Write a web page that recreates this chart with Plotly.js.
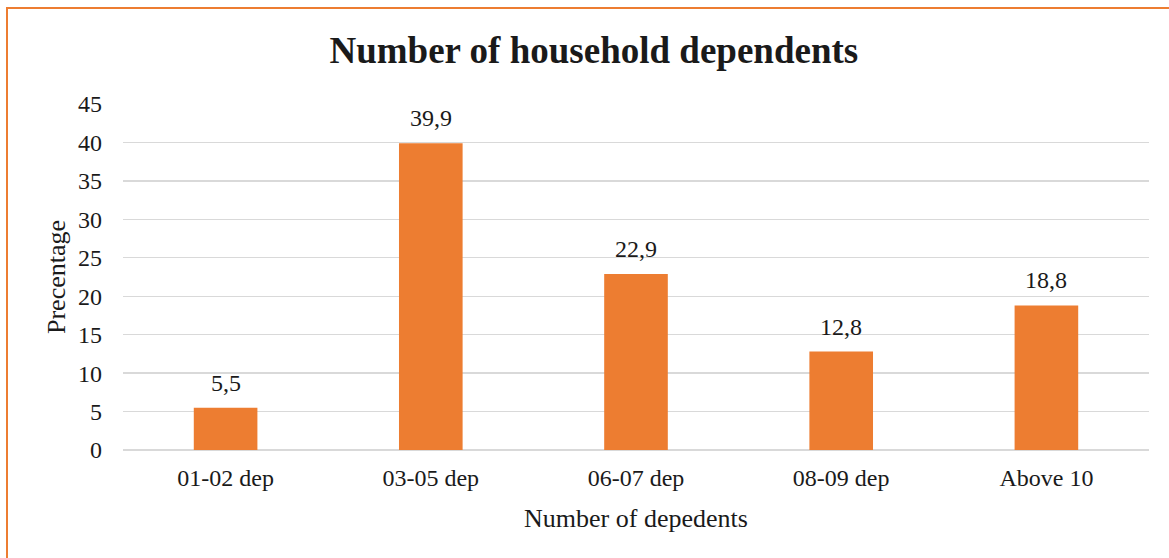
<!DOCTYPE html>
<html>
<head>
<meta charset="utf-8">
<script src="https://cdn.plot.ly/plotly-3.0.1.min.js"></script>
<style>
  html, body { margin: 0; padding: 0; background: #fff; overflow: hidden; }
  #chart { width: 1169px; height: 558px; position: absolute; left: 0; top: 0; }
  #frame {
    position: absolute; left: 6px; top: 7px; width: 1200px; height: 600px;
    border-left: 2px solid #ED7D31; border-top: 2px solid #ED7D31;
    pointer-events: none;
  }
</style>
</head>
<body>
<div id="chart"></div>
<div id="frame"></div>
<script>
// Household dependents survey: share of respondents per group size
const categories = ["01-02 dep", "03-05 dep", "06-07 dep", "08-09 dep", "Above 10"];
const percentages = [5.5, 39.9, 22.9, 12.8, 18.8];
const yTicks = [0, 5, 10, 15, 20, 25, 30, 35, 40, 45];

const serif = "Liberation Serif, Times New Roman, serif";
const ink = "#1a1a1a";

const trace = {
  type: "bar",
  x: categories,
  y: percentages,
  marker: { color: "#ED7D31" },
  hoverinfo: "skip"
};

// value labels sit above each bar, decimal comma as in the source table
const valueLabels = categories.map((c, i) => ({
  x: c,
  y: percentages[i],
  xref: "x", yref: "y",
  text: String(percentages[i]).replace(".", ","),
  showarrow: false,
  yanchor: "bottom",
  yshift: 10,
  font: { family: serif, size: 24, color: ink }
}));

const layout = {
  width: 1169,
  height: 558,
  margin: { l: 123, r: 20, t: 104, b: 108 },
  paper_bgcolor: "#fff",
  plot_bgcolor: "#fff",
  bargap: 0.69,
  showlegend: false,
  annotations: valueLabels,
  title: {
    text: "<b>Number of household dependents</b>",
    font: { family: serif, size: 37, color: ink },
    x: 0.508, xanchor: "center",
    y: 0.91, yanchor: "middle"
  },
  xaxis: {
    type: "category",
    tickfont: { family: serif, size: 24, color: ink },
    ticks: "", showline: false, showgrid: false, zeroline: false,
    ticklabelstandoff: 11,
    title: { text: "Number of depedents", font: { family: serif, size: 26, color: ink }, standoff: 18 },
    automargin: false
  },
  yaxis: {
    range: [0, 45],
    tickvals: yTicks,
    ticktext: yTicks.map(String),
    tickfont: { family: serif, size: 24, color: ink },
    ticks: "", ticklen: 0,
    ticklabelstandoff: 20,
    showgrid: true, gridcolor: "#D9D9D9", gridwidth: 1.3,
    zeroline: true, zerolinecolor: "#D9D9D9", zerolinewidth: 1.3,
    showline: false,
    title: { text: "Precentage", font: { family: serif, size: 26, color: ink }, standoff: 4 },
    automargin: false
  }
};

Plotly.newPlot("chart", [trace], layout, { displayModeBar: false, staticPlot: true });
</script>
</body>
</html>
